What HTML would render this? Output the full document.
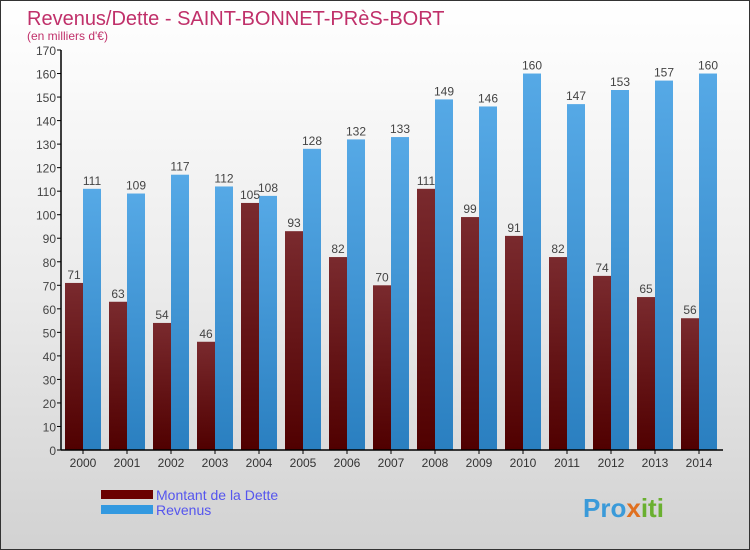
<!DOCTYPE html>
<html><head><meta charset="utf-8"><style>
body{margin:0;width:750px;height:550px;overflow:hidden;font-family:"Liberation Sans",sans-serif}
#wrap{position:relative;width:748px;height:548px;border:1px solid #333;background:linear-gradient(#ffffff 0%,#ececec 50%,#d2d2d2 100%)}
</style></head><body>
<div id="wrap">
<svg id="chart" width="748" height="548" style="position:absolute;left:0;top:0">
<defs>
<linearGradient id="gRed" x1="0" y1="0" x2="0" y2="1"><stop offset="0" stop-color="#7a2a2e"/><stop offset="1" stop-color="#500000"/></linearGradient>
<linearGradient id="gBlue" x1="0" y1="0" x2="0" y2="1"><stop offset="0" stop-color="#56a9e6"/><stop offset="1" stop-color="#2a7fc0"/></linearGradient>
</defs>
<text x="26" y="24" font-size="20" fill="#c0306a">Revenus/Dette - SAINT-BONNET-PRèS-BORT</text>
<text x="26" y="39" font-size="12" fill="#c0306a">(en milliers d'€)</text>
<g id="plot"></g>
<rect x="100" y="489" width="52" height="9" fill="#6b0000"/>
<rect x="100" y="504" width="52" height="9" fill="#3399e0"/>
<text x="155" y="499" font-size="14" fill="#5555ee">Montant de la Dette</text>
<text x="155" y="514" font-size="14" fill="#5555ee">Revenus</text>
<text x="582" y="516" font-size="26" font-weight="bold" fill="#3a9ad9">Pro<tspan fill="#e07020">x</tspan><tspan fill="#6ab030">iti</tspan></text>
</svg>
</div>
<script>
const years=["2000","2001","2002","2003","2004","2005","2006","2007","2008","2009","2010","2011","2012","2013","2014"];
const dette=[71,63,54,46,105,93,82,70,111,99,91,82,74,65,56];
const revenus=[111,109,117,112,108,128,132,133,149,146,160,147,153,157,160];
const yTicks=[0,10,20,30,40,50,60,70,80,90,100,110,120,130,140,150,160,170];
const NS="http://www.w3.org/2000/svg";
const g=document.getElementById('plot');
const y0=449,yTop=49,yMax=170,x0=60,gw=44,bw=18;
function yS(v){return y0-(v/yMax)*(y0-yTop);}
function xS(i){return x0+4+i*gw;}
function mk(t,a){const e=document.createElementNS(NS,t);for(const k in a)e.setAttribute(k,a[k]);g.appendChild(e);return e;}
yTicks.forEach(v=>{
 const l=mk('line',{x1:x0-4,x2:x0,y1:yS(v),y2:yS(v),stroke:'#000'});
 
 
 const t=mk('text',{x:x0-5,y:yS(v)+5,'font-size':12,'text-anchor':'end',fill:'#444'});
 t.textContent=v;
 
 
});
years.forEach((yr,i)=>{
 const x=xS(i);
 const r=mk('rect',{x:x,y:yS(dette[i]),width:bw,height:y0-yS(dette[i]),fill:'url(#gRed)'});
 
 
 const b=mk('rect',{x:x+bw,y:yS(revenus[i]),width:bw,height:y0-yS(revenus[i]),fill:'url(#gBlue)'});
 
 
 const t1=mk('text',{x:x+bw/2,y:yS(dette[i])-4,'font-size':12,'text-anchor':'middle',fill:'#444'});
 t1.textContent=dette[i];
 
 
 const t2=mk('text',{x:x+bw*1.5,y:yS(revenus[i])-4,'font-size':12,'text-anchor':'middle',fill:'#444'});
 t2.textContent=revenus[i];
 
 
 const tk=mk('line',{x1:x+bw,x2:x+bw,y1:y0,y2:y0+4,stroke:'#000'});
 
 
 const xl=mk('text',{x:x+bw,y:y0+17,'font-size':12,'text-anchor':'middle',fill:'#333'});
 xl.textContent=yr;
 
 
});
const ya=mk('line',{x1:x0,x2:x0,y1:yTop,y2:y0,stroke:'#000','stroke-width':1.5});


const xa=mk('line',{x1:x0,x2:722,y1:y0,y2:y0,stroke:'#000','stroke-width':1.5});


</script>
</body></html>
